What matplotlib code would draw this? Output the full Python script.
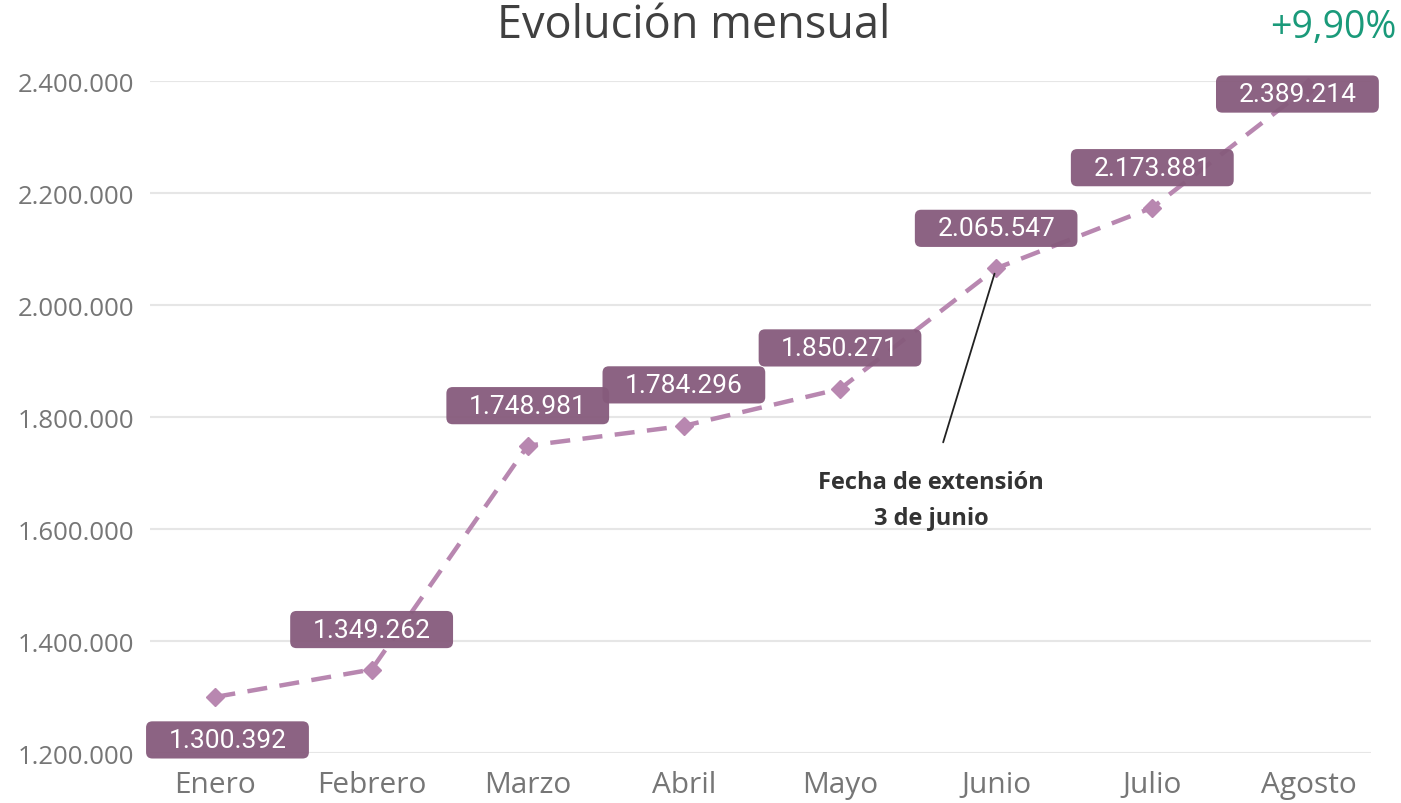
import matplotlib.pyplot as plt
from matplotlib.patches import BoxStyle

meses = ['Enero', 'Febrero', 'Marzo', 'Abril', 'Mayo', 'Junio', 'Julio', 'Agosto']
valores = [1300392, 1349262, 1748981, 1784296, 1850271, 2065547, 2173881, 2389214]
etiquetas = ['1.300.392', '1.349.262', '1.748.981', '1.784.296',
             '1.850.271', '2.065.547', '2.173.881', '2.389.214']
# desplazamiento de cada etiqueta (pixeles) respecto a su punto
desp_x = [12, 0, 0, 0, 0, 0, 0, -11]
desp_y = [-43, 40, 40, 41, 41, 40, 40, -7]
yticks = [1200000, 1400000, 1600000, 1800000, 2000000, 2200000, 2400000]
ytick_labels = ['1.200.000', '1.400.000', '1.600.000', '1.800.000',
                '2.000.000', '2.200.000', '2.400.000']

color_linea = '#b887b0'
color_caja = '#865b7c'
color_gris = '#767676'


def caja_etiqueta(x0, y0, width, height, mutation_size):
    # caja redondeada con mas relleno horizontal que vertical
    px = 0.85 * mutation_size
    py = 0.25 * mutation_size
    redondo = BoxStyle.Round(pad=0, rounding_size=0.24)
    return redondo(x0 - px, y0 - py, width + 2 * px, height + 2 * py, mutation_size)


fig = plt.figure(figsize=(14.01, 8.04), dpi=100)
ax = fig.add_axes([0.107, 0.062, 0.8715, 0.836])

x = list(range(len(meses)))
ax.plot(x, valores, color=color_linea, lw=3.2, ls=(0, (4.5, 2.8)),
        marker='D', markersize=9, markerfacecolor=color_linea,
        markeredgecolor=color_linea, zorder=3, clip_on=False)

for i, texto in enumerate(etiquetas):
    ax.annotate(texto, (x[i], valores[i]), xytext=(desp_x[i], desp_y[i]),
                textcoords='offset pixels', ha='center', va='center',
                fontsize=19, family='Roboto', color='white', zorder=4,
                bbox=dict(boxstyle=caja_etiqueta, fc=color_caja, ec='none', alpha=0.95))

# anotacion de fecha de extension
ax.annotate('', xy=(x[5], valores[5]), xytext=(-53, -174), textcoords='offset pixels',
            arrowprops=dict(arrowstyle='-', lw=1.3, color='#222222', shrinkA=0, shrinkB=4))
ax.annotate('Fecha de extensión\n3 de junio', (x[5], valores[5]), xytext=(-65, -232),
            textcoords='offset pixels', ha='center', va='center', multialignment='center',
            fontsize=17, fontweight='bold', family='Open Sans', color='#333333',
            linespacing=1.65)

ax.set_xlim(-0.42, 7.40)
ax.set_ylim(1200000, 2400000)
ax.set_xticks(x)
ax.set_xticklabels(meses, fontsize=21.5, family='Open Sans', color=color_gris)
ax.set_yticks(yticks)
ax.set_yticklabels(ytick_labels, fontsize=18.5, family='Open Sans', color=color_gris)
ax.tick_params(axis='y', length=0, pad=11)
ax.tick_params(axis='x', length=0, pad=12)
ax.grid(axis='y', color='#e6e6e6', lw=1.5)
ax.set_axisbelow(True)
for s in ax.spines.values():
    s.set_visible(False)

fig.text(0.495, 0.968, 'Evolución mensual', ha='center', va='center',
         fontsize=32.5, family='Open Sans', color='#404040')
fig.text(0.997, 0.965, '+9,90%', ha='right', va='center',
         fontsize=27, family='Open Sans', color='#1a9a7a')

fig.savefig('out.png', dpi=100)
plt.close(fig)
